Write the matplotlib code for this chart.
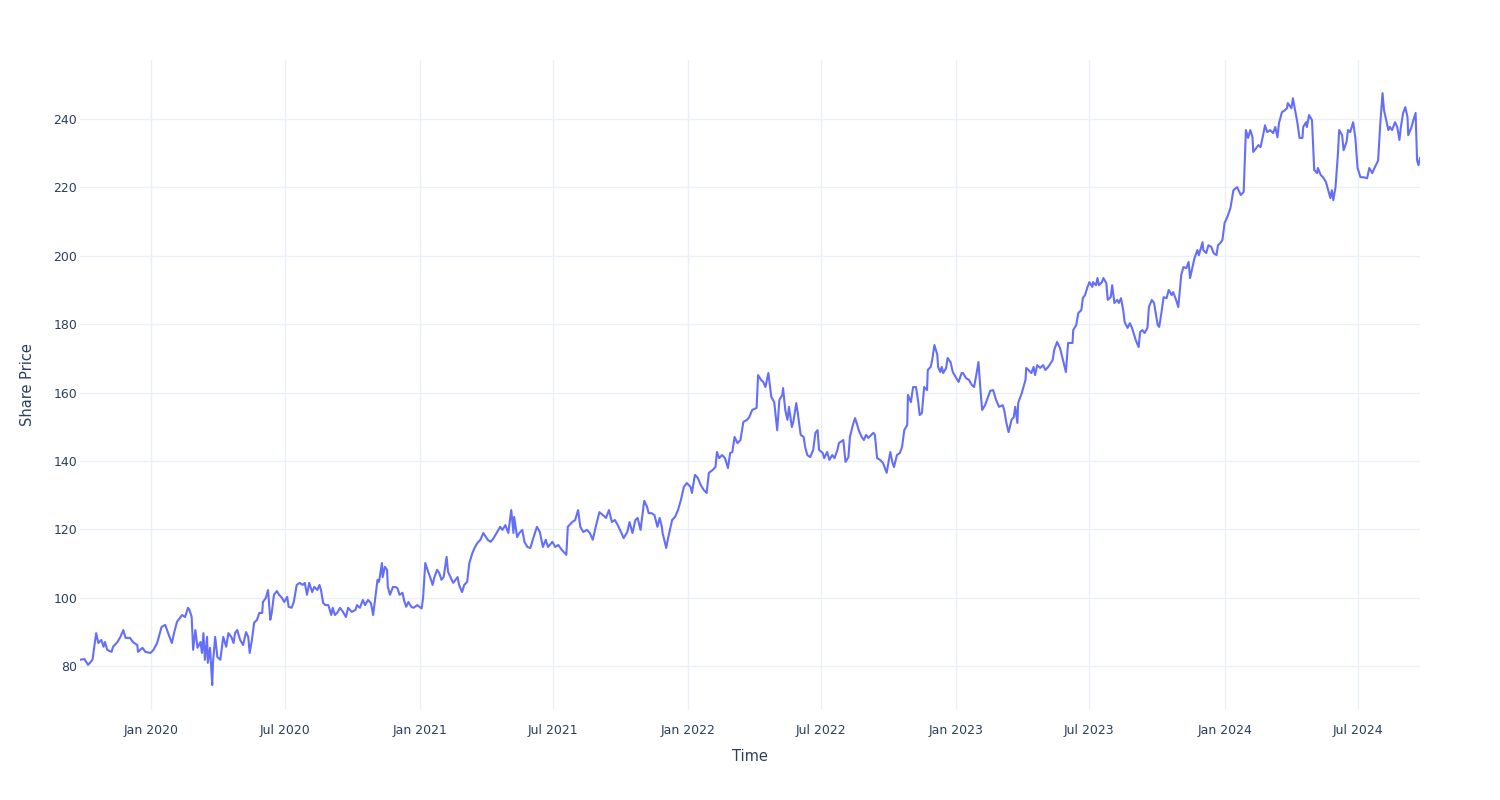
import matplotlib
matplotlib.use("Agg")
import matplotlib.pyplot as plt
import pandas as pd

# share price
dates = [
    "2019-09-26", "2019-10-02", "2019-10-07", "2019-10-13", "2019-10-18", "2019-10-21", "2019-10-25",
    "2019-10-28", "2019-10-30", "2019-11-02", "2019-11-08", "2019-11-10", "2019-11-16", "2019-11-20",
    "2019-11-24", "2019-11-27", "2019-12-03", "2019-12-07", "2019-12-13", "2019-12-14", "2019-12-20",
    "2019-12-24", "2019-12-31",
    "2020-01-04", "2020-01-09", "2020-01-15", "2020-01-20", "2020-01-24", "2020-01-29", "2020-02-01",
    "2020-02-05", "2020-02-12", "2020-02-16", "2020-02-20", "2020-02-22", "2020-02-25", "2020-02-27",
    "2020-03-01", "2020-03-04", "2020-03-08", "2020-03-10", "2020-03-12", "2020-03-14", "2020-03-17",
    "2020-03-18", "2020-03-21", "2020-03-24", "2020-03-25", "2020-03-28", "2020-03-31", "2020-04-04",
    "2020-04-08", "2020-04-12", "2020-04-15", "2020-04-19", "2020-04-22", "2020-04-24", "2020-04-27",
    "2020-05-01", "2020-05-05", "2020-05-09", "2020-05-12", "2020-05-14", "2020-05-17", "2020-05-20",
    "2020-05-24", "2020-05-27", "2020-05-31", "2020-06-01", "2020-06-05", "2020-06-08", "2020-06-11",
    "2020-06-13", "2020-06-16", "2020-06-20", "2020-06-23", "2020-06-27", "2020-06-30", "2020-07-04",
    "2020-07-06", "2020-07-10", "2020-07-13", "2020-07-17", "2020-07-21", "2020-07-25", "2020-07-28",
    "2020-07-31", "2020-08-03", "2020-08-07", "2020-08-10", "2020-08-14", "2020-08-17", "2020-08-19",
    "2020-08-22", "2020-08-25", "2020-08-29", "2020-09-02", "2020-09-04", "2020-09-07", "2020-09-10",
    "2020-09-14", "2020-09-18", "2020-09-22", "2020-09-25", "2020-09-30", "2020-10-05", "2020-10-07",
    "2020-10-11", "2020-10-15", "2020-10-18", "2020-10-22", "2020-10-26", "2020-10-29", "2020-10-31",
    "2020-11-04", "2020-11-06", "2020-11-10", "2020-11-11", "2020-11-14", "2020-11-17", "2020-11-18",
    "2020-11-21", "2020-11-25", "2020-11-28", "2020-12-01", "2020-12-04", "2020-12-08", "2020-12-10",
    "2020-12-13", "2020-12-16", "2020-12-20", "2020-12-23", "2020-12-28", "2020-12-31",
    "2021-01-03", "2021-01-05", "2021-01-08", "2021-01-12", "2021-01-15", "2021-01-18", "2021-01-20",
    "2021-01-24", "2021-01-27", "2021-01-30", "2021-02-02", "2021-02-06", "2021-02-08", "2021-02-12",
    "2021-02-15", "2021-02-21", "2021-02-23", "2021-02-27", "2021-03-02", "2021-03-06", "2021-03-09",
    "2021-03-13", "2021-03-16", "2021-03-20", "2021-03-24", "2021-03-28", "2021-04-03", "2021-04-07",
    "2021-04-11", "2021-04-16", "2021-04-20", "2021-04-23", "2021-04-27", "2021-05-01", "2021-05-05",
    "2021-05-08", "2021-05-09", "2021-05-13", "2021-05-16", "2021-05-20", "2021-05-23", "2021-05-27",
    "2021-05-31", "2021-06-04", "2021-06-09", "2021-06-13", "2021-06-17", "2021-06-21", "2021-06-24",
    "2021-06-30", "2021-07-04", "2021-07-08", "2021-07-13", "2021-07-19", "2021-07-21", "2021-07-27",
    "2021-07-31", "2021-08-04", "2021-08-07", "2021-08-11", "2021-08-16", "2021-08-20", "2021-08-24",
    "2021-08-28", "2021-09-02", "2021-09-07", "2021-09-11", "2021-09-15", "2021-09-19", "2021-09-23",
    "2021-09-27", "2021-10-02", "2021-10-05", "2021-10-10", "2021-10-13", "2021-10-17", "2021-10-21",
    "2021-10-24", "2021-10-28", "2021-11-02", "2021-11-06", "2021-11-08", "2021-11-12", "2021-11-16",
    "2021-11-20", "2021-11-23", "2021-11-26", "2021-11-27", "2021-12-02", "2021-12-04", "2021-12-10",
    "2021-12-14", "2021-12-18", "2021-12-22", "2021-12-26", "2021-12-30",
    "2022-01-04", "2022-01-06", "2022-01-10", "2022-01-14", "2022-01-18", "2022-01-22", "2022-01-26",
    "2022-01-29", "2022-02-03", "2022-02-07", "2022-02-09", "2022-02-12", "2022-02-16", "2022-02-20",
    "2022-02-24", "2022-02-27", "2022-03-02", "2022-03-05", "2022-03-09", "2022-03-13", "2022-03-17",
    "2022-03-22", "2022-03-25", "2022-03-29", "2022-04-04", "2022-04-06", "2022-04-10", "2022-04-13",
    "2022-04-16", "2022-04-20", "2022-04-24", "2022-04-28", "2022-05-02", "2022-05-05", "2022-05-09",
    "2022-05-10", "2022-05-13", "2022-05-16", "2022-05-18", "2022-05-22", "2022-05-24", "2022-05-28",
    "2022-05-30", "2022-06-03", "2022-06-07", "2022-06-09", "2022-06-12", "2022-06-16", "2022-06-20",
    "2022-06-23", "2022-06-26", "2022-06-28", "2022-07-03", "2022-07-05", "2022-07-09", "2022-07-12",
    "2022-07-16", "2022-07-19", "2022-07-23", "2022-07-25", "2022-07-31", "2022-08-03", "2022-08-07",
    "2022-08-09", "2022-08-13", "2022-08-16", "2022-08-19", "2022-08-21", "2022-08-25", "2022-08-28",
    "2022-08-31", "2022-09-03", "2022-09-07", "2022-09-10", "2022-09-12", "2022-09-15", "2022-09-19",
    "2022-09-23", "2022-09-28", "2022-10-03", "2022-10-06", "2022-10-08", "2022-10-12", "2022-10-16",
    "2022-10-19", "2022-10-22", "2022-10-26", "2022-10-27", "2022-10-31", "2022-11-03", "2022-11-07",
    "2022-11-10", "2022-11-12", "2022-11-15", "2022-11-18", "2022-11-22", "2022-11-23", "2022-11-27",
    "2022-11-29", "2022-12-02", "2022-12-06", "2022-12-07", "2022-12-10", "2022-12-12", "2022-12-14",
    "2022-12-18", "2022-12-20", "2022-12-24", "2022-12-27", "2022-12-31",
    "2023-01-04", "2023-01-08", "2023-01-10", "2023-01-14", "2023-01-18", "2023-01-22", "2023-01-25",
    "2023-01-28", "2023-01-31", "2023-02-03", "2023-02-05", "2023-02-09", "2023-02-13", "2023-02-16",
    "2023-02-20", "2023-02-24", "2023-02-28", "2023-03-05", "2023-03-07", "2023-03-10", "2023-03-13",
    "2023-03-17", "2023-03-20", "2023-03-22", "2023-03-25", "2023-03-26", "2023-03-31", "2023-04-05",
    "2023-04-06", "2023-04-09", "2023-04-13", "2023-04-16", "2023-04-18", "2023-04-21", "2023-04-25",
    "2023-04-29", "2023-05-02", "2023-05-06", "2023-05-12", "2023-05-14", "2023-05-18", "2023-05-22",
    "2023-05-26", "2023-05-30", "2023-06-02", "2023-06-08", "2023-06-09", "2023-06-13", "2023-06-16",
    "2023-06-20", "2023-06-22", "2023-06-25", "2023-06-28", "2023-07-01", "2023-07-05", "2023-07-06",
    "2023-07-10", "2023-07-12", "2023-07-14", "2023-07-18", "2023-07-20", "2023-07-24", "2023-07-26",
    "2023-07-30", "2023-08-01", "2023-08-04", "2023-08-08", "2023-08-10", "2023-08-13", "2023-08-16",
    "2023-08-18", "2023-08-22", "2023-08-25", "2023-08-28", "2023-09-02", "2023-09-06", "2023-09-08",
    "2023-09-11", "2023-09-14", "2023-09-18", "2023-09-20", "2023-09-24", "2023-09-27", "2023-10-02",
    "2023-10-04", "2023-10-07", "2023-10-10", "2023-10-14", "2023-10-17", "2023-10-21", "2023-10-23",
    "2023-10-27", "2023-10-30", "2023-11-03", "2023-11-06", "2023-11-10", "2023-11-13", "2023-11-15",
    "2023-11-18", "2023-11-21", "2023-11-25", "2023-11-27", "2023-12-02", "2023-12-03", "2023-12-07",
    "2023-12-10", "2023-12-14", "2023-12-17", "2023-12-21", "2023-12-23", "2023-12-26", "2023-12-29",
    "2024-01-01", "2024-01-05", "2024-01-09", "2024-01-13", "2024-01-18", "2024-01-23", "2024-01-27",
    "2024-01-30", "2024-02-02", "2024-02-05", "2024-02-08", "2024-02-09", "2024-02-13", "2024-02-16",
    "2024-02-19", "2024-02-23", "2024-02-25", "2024-02-28", "2024-03-03", "2024-03-07", "2024-03-10",
    "2024-03-13", "2024-03-15", "2024-03-19", "2024-03-23", "2024-03-26", "2024-03-27", "2024-04-01",
    "2024-04-03", "2024-04-06", "2024-04-09", "2024-04-12", "2024-04-16", "2024-04-17", "2024-04-21",
    "2024-04-22", "2024-04-25", "2024-04-29", "2024-05-02", "2024-05-06", "2024-05-07", "2024-05-11",
    "2024-05-14", "2024-05-18", "2024-05-21", "2024-05-24", "2024-05-26", "2024-05-28", "2024-05-31",
    "2024-06-03", "2024-06-05", "2024-06-09", "2024-06-11", "2024-06-15", "2024-06-17", "2024-06-20",
    "2024-06-24", "2024-06-27", "2024-06-30", "2024-07-04", "2024-07-08", "2024-07-13", "2024-07-16",
    "2024-07-20", "2024-07-23", "2024-07-27", "2024-07-28", "2024-07-31", "2024-08-03", "2024-08-05",
    "2024-08-08", "2024-08-11", "2024-08-13", "2024-08-16", "2024-08-20", "2024-08-23", "2024-08-26",
    "2024-08-28", "2024-08-31", "2024-09-03", "2024-09-06", "2024-09-07", "2024-09-11", "2024-09-14",
    "2024-09-17", "2024-09-19", "2024-09-21", "2024-09-23",
]

price = [
    81.8, 82.0, 80.3, 81.8, 89.6, 86.7, 87.6,
    85.6, 87.0, 84.7, 84.1, 85.6, 87.0, 88.5,
    90.5, 88.2, 88.2, 87.0, 86.1, 84.1, 85.3,
    84.1, 83.8,
    84.7, 86.7, 91.4, 92.0, 89.6, 86.7, 89.6,
    92.9, 94.9, 94.3, 97.0, 96.4, 94.3, 84.7,
    90.5, 85.3, 87.0, 83.8, 89.6, 81.8, 88.5,
    80.9, 85.3, 74.4, 80.9, 88.5, 82.6, 81.8,
    88.5, 85.6, 89.6, 88.5, 86.7, 89.6, 90.5,
    87.6, 86.1, 89.9, 88.5, 83.8, 87.6, 92.6,
    93.5, 95.5, 95.5, 98.7, 99.9, 102.2, 93.5,
    95.5, 100.8, 101.9, 100.8, 99.9, 98.7, 100.2,
    97.3, 97.0, 98.7, 103.7, 104.3, 103.7, 104.3,
    100.8, 104.3, 101.6, 103.1, 102.2, 103.7, 102.2,
    98.4, 97.8, 97.8, 94.9, 97.0, 94.9, 95.5,
    97.0, 95.8, 94.3, 97.0, 95.8, 96.4, 97.8,
    97.0, 99.3, 97.8, 99.3, 98.4, 94.9, 98.4,
    105.2, 104.6, 110.1, 106.0, 109.0, 108.1, 103.1,
    100.8, 103.1, 103.1, 102.8, 100.8, 101.4, 99.3,
    97.3, 98.7, 97.3, 97.0, 97.8, 97.3,
    96.8, 99.9, 110.1, 107.5, 105.7, 103.7, 105.7,
    108.1, 107.2, 105.2, 106.0, 111.9, 107.5, 105.7,
    104.3, 106.0, 103.7, 101.6, 103.7, 104.6, 110.1,
    113.0, 114.5, 116.0, 116.9, 118.9, 116.9, 116.3,
    117.4, 119.2, 120.7, 119.8, 121.2, 118.9, 125.6,
    118.9, 123.6, 117.7, 118.9, 119.8, 116.3, 114.8,
    114.5, 117.4, 120.7, 119.2, 114.8, 116.9, 114.8,
    116.3, 114.8, 115.4, 113.9, 112.5, 120.7, 122.1,
    122.7, 125.6, 120.7, 119.2, 119.8, 118.9, 116.9,
    120.7, 125.0, 124.1, 123.3, 125.6, 122.1, 122.7,
    121.2, 118.9, 117.4, 119.2, 122.1, 118.9, 122.7,
    123.3, 119.8, 128.3, 126.5, 124.7, 124.7, 124.1,
    120.7, 123.3, 120.7, 118.9, 114.5, 116.9, 122.7,
    123.6, 125.6, 128.6, 132.4, 133.5,
    132.4, 130.6, 135.9, 135.0, 132.9, 131.5, 130.6,
    136.5, 137.3, 138.2, 142.6, 140.8, 141.7, 140.8,
    137.9, 142.3, 142.6, 147.0, 145.2, 146.1, 151.4,
    152.0, 152.8, 154.9, 155.5, 165.1, 163.7, 163.1,
    161.6, 165.7, 158.7, 157.2, 149.0, 157.8, 159.3,
    161.3, 154.9, 152.0, 155.8, 149.9, 151.4, 156.9,
    154.0, 147.6, 147.0, 144.1, 141.7, 141.1, 143.2,
    148.2, 149.0, 143.2, 142.3, 140.8, 142.6, 140.3,
    141.7, 140.8, 143.2, 145.2, 146.1, 139.7, 141.1,
    147.0, 150.5, 152.5, 150.5, 149.0, 147.0, 146.1,
    147.6, 146.7, 147.6, 148.2, 147.6, 140.8, 140.3,
    139.4, 136.5, 142.6, 139.4, 138.2, 141.7, 142.3,
    144.1, 149.0, 150.5, 159.3, 157.2, 161.6, 161.6,
    157.2, 153.4, 154.0, 161.6, 160.7, 166.6, 167.5,
    169.5, 173.9, 171.0, 167.5, 166.0, 167.5, 165.7,
    167.2, 170.1, 168.9, 166.0, 164.5,
    163.1, 165.7, 165.7, 164.2, 163.7, 162.2, 161.6,
    165.1, 168.9, 159.9, 154.9, 156.3, 158.7, 160.5,
    160.7, 157.8, 155.8, 156.3, 154.9, 151.1, 148.4,
    152.0, 152.8, 155.8, 151.1, 156.9, 159.9, 163.7,
    167.2, 166.6, 165.7, 167.5, 165.1, 168.0, 167.2,
    168.0, 166.6, 167.5, 169.5, 172.4, 174.8, 173.0,
    169.5, 166.0, 174.5, 174.5, 178.3, 179.7, 183.3,
    184.1, 187.6, 188.5, 190.6, 192.3, 190.9, 192.3,
    191.4, 193.5, 191.4, 192.3, 193.5, 192.0, 187.1,
    187.9, 191.4, 186.2, 187.1, 186.2, 187.6, 184.1,
    180.6, 178.9, 180.3, 178.9, 175.4, 173.3, 177.7,
    178.3, 177.4, 178.9, 185.0, 187.1, 186.2, 179.7,
    179.2, 183.3, 187.9, 187.6, 190.0, 188.5, 189.4,
    187.1, 185.0, 194.4, 196.7, 196.4, 198.2, 193.5,
    196.4, 199.3, 201.7, 200.2, 204.0, 201.7, 200.8,
    203.1, 202.6, 200.8, 200.2, 203.1, 203.7, 204.6,
    209.6, 211.5, 214.0, 219.2, 220.1, 217.8, 218.7,
    236.8, 234.5, 236.8, 234.7, 230.4, 231.5, 232.4,
    231.8, 235.9, 238.2, 236.2, 236.8, 235.9, 237.7,
    234.7, 238.8, 242.0, 242.6, 243.2, 244.7, 243.2,
    246.1, 242.6, 239.1, 234.5, 234.5, 237.7, 239.1,
    237.7, 241.2, 239.7, 225.1, 224.2, 225.7, 223.6,
    223.0, 221.6, 219.2, 216.9, 219.2, 216.3, 220.1,
    228.9, 236.8, 235.3, 230.9, 233.3, 236.8, 236.2,
    239.1, 234.5, 225.7, 223.0, 223.0, 222.7, 225.7,
    224.2, 225.7, 227.4, 228.0, 238.8, 247.6, 242.6,
    239.7, 236.8, 237.7, 236.8, 239.1, 237.7, 233.9,
    237.7, 241.8, 243.5, 240.6, 235.3, 237.4, 239.7,
    241.8, 228.0, 226.5, 228.6,
]

y_ticks = [80, 100, 120, 140, 160, 180, 200, 220, 240]
x_ticks = ["2020-01-01", "2020-07-01", "2021-01-01", "2021-07-01", "2022-01-01",
           "2022-07-01", "2023-01-01", "2023-07-01", "2024-01-01", "2024-07-01"]
x_tick_labels = ["Jan 2020", "Jul 2020", "Jan 2021", "Jul 2021", "Jan 2022",
                 "Jul 2022", "Jan 2023", "Jul 2023", "Jan 2024", "Jul 2024"]

assert len(dates) == len(price)
df = pd.DataFrame({"Time": pd.to_datetime(dates), "Share Price": price})

text_color = "#2a3f5f"
grid_color = "#EBF0F8"
line_color = "#636EFA"

plt.rcParams["font.family"] = ["DejaVu Sans"]

fig = plt.figure(figsize=(15, 8), dpi=100)
ax = fig.add_axes([80 / 1500, 90 / 800, 1340 / 1500, 650 / 800])

ax.plot(df["Time"], df["Share Price"], color=line_color, linewidth=1.5,
        solid_joinstyle="round", zorder=3)

ax.set_xlim(df["Time"].iloc[0], df["Time"].iloc[-1])
ax.set_ylim(67.1, 257.3)

ax.set_yticks(y_ticks)
ax.set_xticks(pd.to_datetime(x_ticks))
ax.set_xticklabels(x_tick_labels)

ax.grid(True, color=grid_color, linewidth=1, zorder=0)
ax.set_axisbelow(True)
for s in ax.spines.values():
    s.set_visible(False)

ax.tick_params(axis="both", length=0, labelsize=9, labelcolor=text_color)
ax.tick_params(axis="y", pad=2)
ax.tick_params(axis="x", pad=10)

ax.set_xlabel("Time", fontsize=10.5, color=text_color, labelpad=9)
ax.set_ylabel("Share Price", fontsize=10.5, color=text_color, labelpad=13)

fig.savefig("out.png", dpi=100, facecolor="white")
